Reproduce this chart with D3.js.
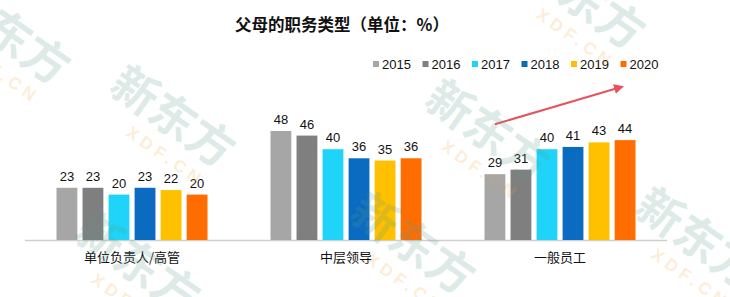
<!DOCTYPE html>
<html>
<head>
<meta charset="utf-8">
<script src="https://cdn.jsdelivr.net/npm/d3@7"></script>
<style>
  body { margin: 0; background: #fff; }
  text { font-family: "Liberation Sans", Arial, sans-serif; }
  .cjk { font-family: "Noto Sans CJK SC", sans-serif; }
</style>
</head>
<body>
<svg width="730" height="297"></svg>
<script>
// data
const categories = ['单位负责人/高管', '中层领导', '一般员工']
const years = ['2015', '2016', '2017', '2018', '2019', '2020']
const values = {
    '2015': [23, 48, 29],
    '2016': [23, 46, 31],
    '2017': [20, 40, 40],
    '2018': [23, 36, 41],
    '2019': [22, 35, 43],
    '2020': [20, 36, 44]
}
const colors = ['#a6a6a6', '#7f7f7f', '#1fd4f8', '#0a6bc0', '#ffc000', '#ff6d00']
const title = '父母的职务类型（单位：%）'
// trend arrow over 一般员工, in data units
const arrowFrom = { year: '2015', v: 51 }
const arrowTo = { year: '2020', v: 67.5 }

const svg = d3.select('svg')

const color = d3.scaleOrdinal().domain(years).range(colors)

const x0 = d3.scaleBand()
    .domain(categories)
    .range([25, 667])

const x1 = d3.scaleBand()
    .domain(years)
    .range([0, 151])
    .paddingInner(0.2)

const groupOffset = (x0.bandwidth() - 151) / 2

const y = d3.scaleLinear()
    .domain([0, 50])
    .range([240, 126.5])

const rows = categories.flatMap((c, i) => years.map(yr => ({ cat: c, year: yr, v: values[yr][i] })))

// title
svg.append('text')
    .attr('class', 'cjk')
    .attr('x', 342)
    .attr('y', 31)
    .attr('text-anchor', 'middle')
    .style('font-size', '16.5px')
    .style('font-weight', 'bold')
    .attr('fill', '#111')
    .text(title)

// legend
const legend = svg.append('g')
    .selectAll('g')
    .data(years)
    .enter()
    .append('g')
    .attr('transform', (d, i) => 'translate(' + (373 + i * 49.5) + ',0)')

legend.append('rect')
    .attr('x', 0)
    .attr('y', 61)
    .attr('width', 6)
    .attr('height', 6)
    .attr('fill', d => color(d))

legend.append('text')
    .attr('x', 9)
    .attr('y', 69)
    .style('font-size', '13px')
    .attr('fill', '#111')
    .text(d => d)

// axis line
svg.append('line')
    .attr('x1', x0.range()[0])
    .attr('x2', x0.range()[1])
    .attr('y1', y(0) + 0.5)
    .attr('y2', y(0) + 0.5)
    .attr('stroke', '#cfcfcf')
    .attr('stroke-width', 1.5)

const barX = d => x0(d.cat) + groupOffset + x1(d.year)

// bars
svg.append('g')
    .selectAll('rect')
    .data(rows)
    .enter()
    .append('rect')
    .attr('x', barX)
    .attr('y', d => y(d.v))
    .attr('width', x1.bandwidth())
    .attr('height', d => y(0) - y(d.v))
    .attr('fill', d => color(d.year))

// value labels
svg.append('g')
    .selectAll('text')
    .data(rows)
    .enter()
    .append('text')
    .attr('x', d => barX(d) + x1.bandwidth() / 2)
    .attr('y', d => y(d.v) - 7)
    .attr('text-anchor', 'middle')
    .style('font-size', '13px')
    .attr('fill', '#111')
    .text(d => d.v)

// category labels
svg.append('g')
    .selectAll('text')
    .data(categories)
    .enter()
    .append('text')
    .attr('class', 'cjk')
    .attr('x', d => x0(d) + x0.bandwidth() / 2)
    .attr('y', 262)
    .attr('text-anchor', 'middle')
    .style('font-size', '13px')
    .attr('fill', '#111')
    .text(d => d)

// trend arrow
svg.append('defs')
    .append('marker')
    .attr('id', 'head')
    .attr('viewBox', '0 0 10 10')
    .attr('refX', 8)
    .attr('refY', 5)
    .attr('markerWidth', 5)
    .attr('markerHeight', 5)
    .attr('orient', 'auto')
    .append('path')
    .attr('d', 'M0,0L10,5L0,10z')
    .attr('fill', '#e8525e')

const lastCat = categories[2]
svg.append('line')
    .attr('x1', x0(lastCat) + groupOffset + x1(arrowFrom.year) + x1.bandwidth() / 2)
    .attr('y1', y(arrowFrom.v))
    .attr('x2', x0(lastCat) + groupOffset + x1(arrowTo.year) + x1.bandwidth() / 2 - 3)
    .attr('y2', y(arrowTo.v))
    .attr('stroke', '#e8525e')
    .attr('stroke-width', 2)
    .attr('marker-end', 'url(#head)')

// faint watermarks
const marks = [[-35, -25], [130, 58], [540, -60], [445, 72], [370, 185], [655, 180], [95, 205]]
const wm = svg.append('g')
    .selectAll('g')
    .data(marks)
    .enter()
    .append('g')
    .attr('transform', d => 'translate(' + d[0] + ',' + d[1] + ') rotate(35)')
    .style('pointer-events', 'none')

wm.append('text')
    .attr('class', 'cjk')
    .attr('x', 0)
    .attr('y', 40)
    .style('font-size', '46px')
    .style('font-weight', 'bold')
    .attr('fill', '#5a9c8a')
    .attr('opacity', 0.2)
    .text('新东方')

wm.append('text')
    .attr('x', 40)
    .attr('y', 66)
    .style('font-size', '17px')
    .style('font-weight', 'bold')
    .style('letter-spacing', '5px')
    .attr('fill', '#f5a030')
    .attr('opacity', 0.18)
    .text('XDF.CN')
</script>
</body>
</html>
